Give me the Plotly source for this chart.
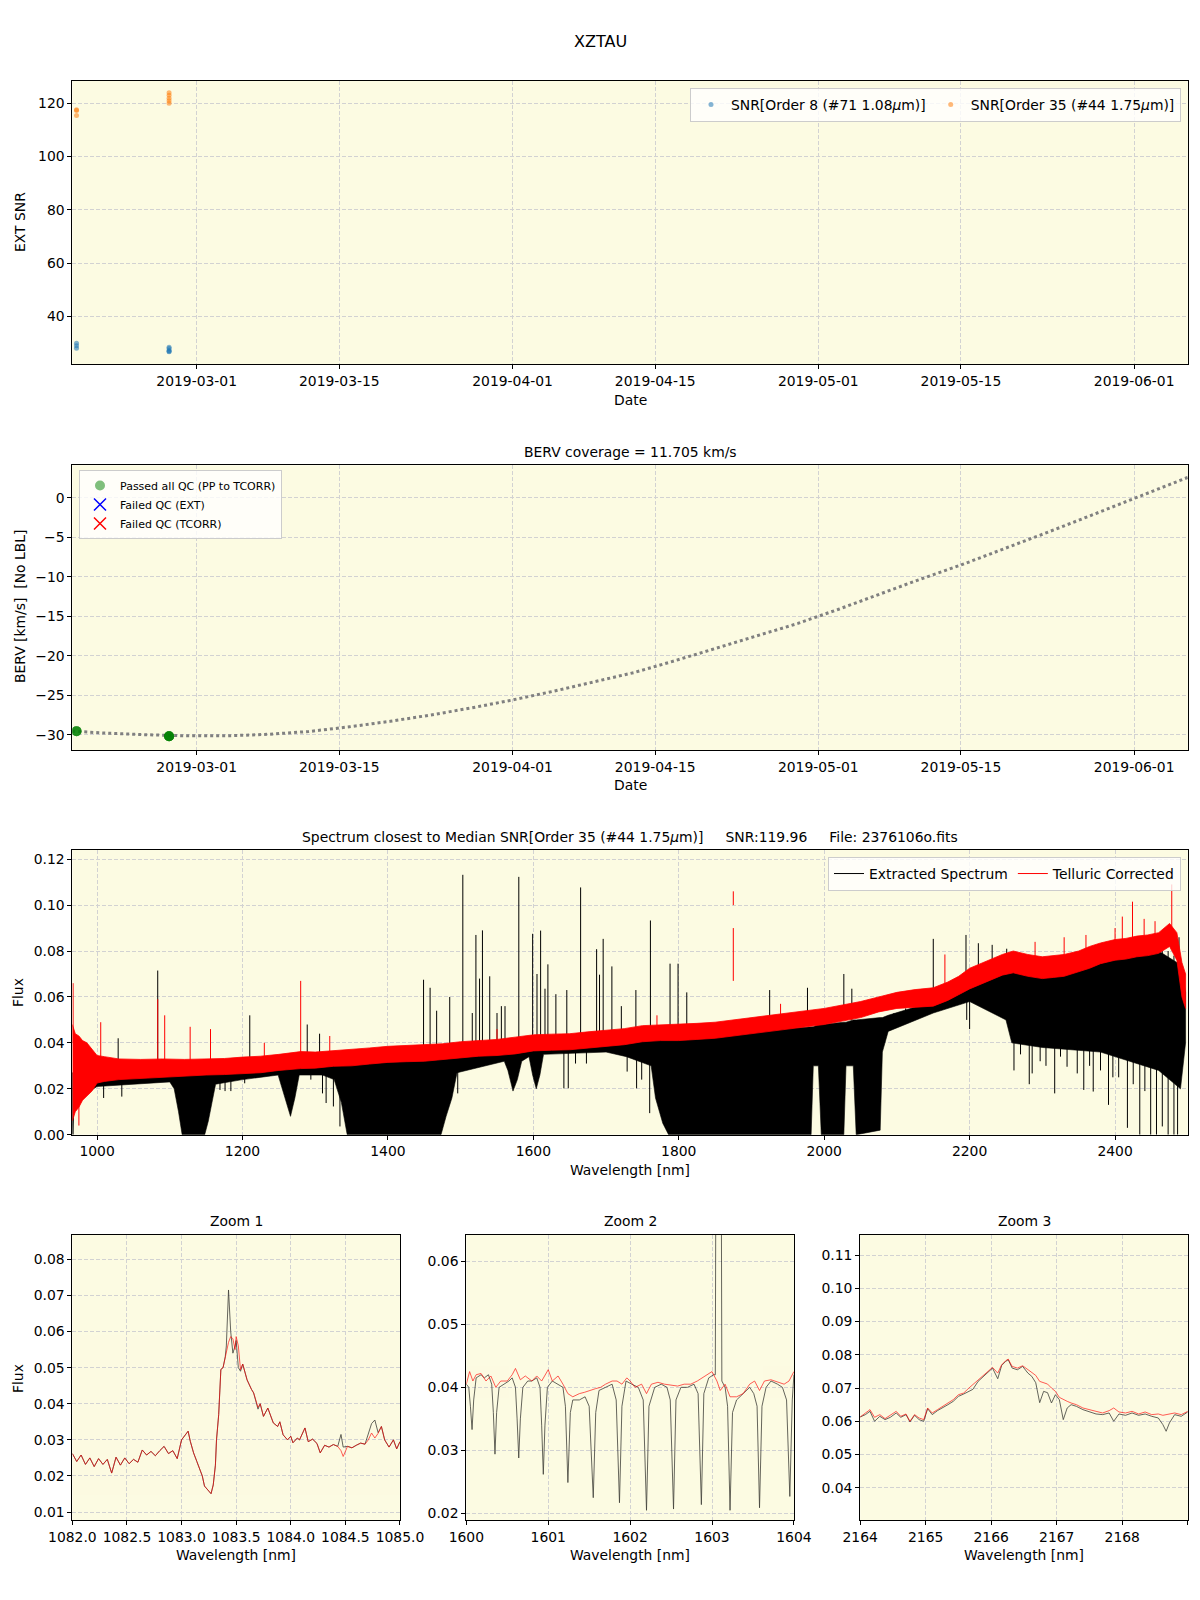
import plotly.graph_objects as go

# ---------------------------------------------------------------- observations
obs_dates = ["2019-02-17 05:00"] * 3 + ["2019-02-26 07:00"] * 5
snr_order8 = [29.9, 29.0, 28.0, 28.4, 27.9, 27.2, 26.9, 26.7]
snr_order35 = [117.5, 117.2, 115.3, 123.9, 122.9, 121.8, 120.9, 119.9]
berv_obs = [-29.55, -29.55, -29.55, -30.2, -30.2, -30.2, -30.2, -30.2]

# BERV over the season (dotted curve)
berv_curve_dates = [
    "2019-02-16 19:00", "2019-02-20", "2019-02-24", "2019-02-28", "2019-03-04",
    "2019-03-08", "2019-03-12", "2019-03-16", "2019-03-20", "2019-03-24",
    "2019-03-28", "2019-04-01", "2019-04-05", "2019-04-09", "2019-04-13",
    "2019-04-17", "2019-04-21", "2019-04-25", "2019-04-29", "2019-05-03",
    "2019-05-07", "2019-05-11", "2019-05-15", "2019-05-19", "2019-05-23",
    "2019-05-27", "2019-05-31", "2019-06-04", "2019-06-06 06:00",
]
berv_curve = [
    -29.55, -29.8, -30.0, -30.15, -30.15,
    -29.95, -29.6, -29.0, -28.3, -27.5,
    -26.6, -25.6, -24.5, -23.3, -22.1,
    -20.6, -19.0, -17.5, -15.9, -14.1,
    -12.2, -10.3, -8.5, -6.6, -4.6,
    -2.6, -0.6, 1.5, 2.6,
]
date_ticks = ["2019-03-01", "2019-03-15", "2019-04-01", "2019-04-15",
              "2019-05-01", "2019-05-15", "2019-06-01"]

# ---------------------------------------------------------------- full spectrum
# telluric corrected: noisy red ribbon (upper / lower envelope)
tc_env_wl = [966, 970, 975, 980, 986, 993, 1000, 1010, 1030, 1060, 1090, 1120,
             1150, 1175, 1200, 1225, 1250, 1280, 1300, 1325, 1350, 1375, 1400, 1425,
             1450, 1475, 1500, 1525, 1550, 1575, 1600, 1625, 1650, 1675, 1700, 1725,
             1750, 1775, 1800, 1825, 1850, 1875, 1900, 1925, 1950, 1975, 2000, 2025,
             2050, 2075, 2100, 2125, 2150, 2170, 2185, 2200, 2215, 2230, 2245, 2260,
             2280, 2300, 2315, 2330, 2350, 2365, 2380, 2400, 2415, 2430, 2445, 2460,
             2475, 2485, 2492, 2497]
tc_env_hi = [0.048, 0.044, 0.043, 0.041, 0.040, 0.037, 0.0345, 0.034, 0.033, 0.0328,
             0.033, 0.0328, 0.033, 0.0332, 0.0338, 0.0342, 0.035, 0.0362, 0.036, 0.0365,
             0.0372, 0.0378, 0.0385, 0.0388, 0.039, 0.0396, 0.0405, 0.041, 0.0415,
             0.0425, 0.0435, 0.0438, 0.044, 0.0448, 0.0455, 0.0462, 0.0475, 0.0478,
             0.048, 0.0485, 0.049, 0.050, 0.051, 0.052, 0.053, 0.054, 0.055, 0.0565,
             0.058, 0.060, 0.062, 0.0632, 0.064, 0.0665, 0.069, 0.0725, 0.0745, 0.0765,
             0.0785, 0.080, 0.0785, 0.0775, 0.078, 0.0785, 0.080, 0.082, 0.0835, 0.085,
             0.0855, 0.0865, 0.087, 0.088, 0.092, 0.088, 0.075, 0.070]
tc_env_lo = [0.006, 0.010, 0.012, 0.015, 0.017, 0.019, 0.0225, 0.0232, 0.024, 0.0242,
             0.025, 0.0255, 0.026, 0.0262, 0.0265, 0.027, 0.028, 0.0288, 0.029, 0.0298,
             0.030, 0.0308, 0.0315, 0.0318, 0.032, 0.0328, 0.0335, 0.0342, 0.0345,
             0.0352, 0.0365, 0.0368, 0.037, 0.0378, 0.0385, 0.0392, 0.0405, 0.041,
             0.041, 0.0415, 0.042, 0.043, 0.044, 0.045, 0.046, 0.047, 0.048, 0.0495,
             0.051, 0.0535, 0.055, 0.0555, 0.056, 0.0585, 0.061, 0.0635, 0.0655, 0.0675,
             0.0695, 0.0705, 0.069, 0.068, 0.0685, 0.069, 0.071, 0.0725, 0.0745, 0.076,
             0.0765, 0.0775, 0.078, 0.079, 0.082, 0.076, 0.060, 0.055]
# red spikes (wavelength, low end, high end)
tc_spk_wl = [967, 975, 1005, 1083.4, 1093, 1128, 1156, 1230, 1280, 1320, 1550, 1770,
             1875, 1875, 1940, 2166, 2290, 2330, 2360, 2400, 2410, 2424, 2440, 2455,
             2478]
tc_spk_lo = [0.040, 0.004, 0.030, 0.030, 0.030, 0.030, 0.030, 0.032, 0.034, 0.034,
             0.040, 0.045, 0.067, 0.100, 0.050, 0.064, 0.076, 0.076, 0.078, 0.082, 0.082,
             0.083, 0.084, 0.085, 0.088]
tc_spk_hi = [0.066, 0.015, 0.049, 0.059, 0.052, 0.047, 0.046, 0.040, 0.067, 0.043,
             0.046, 0.052, 0.090, 0.106, 0.057, 0.0785, 0.084, 0.086, 0.087, 0.090,
             0.095, 0.1015, 0.094, 0.093, 0.109]

# extracted spectrum: black envelope (absorption bands reach zero)
ext_env_wl = [966, 968, 972, 985, 1000, 1050, 1100, 1106, 1112, 1117, 1148, 1153,
              1158, 1163, 1200, 1249, 1256, 1266, 1272, 1278, 1310, 1326, 1336,
              1344, 1473, 1480, 1488, 1495, 1560, 1565, 1572, 1578, 1584, 1594,
              1599, 1604, 1609, 1614, 1700, 1728, 1762, 1768, 1778, 1786, 1982,
              1985, 1992, 1996, 2027, 2030, 2040, 2044, 2077, 2080, 2088, 2150,
              2200, 2250, 2258, 2300, 2380, 2420, 2460, 2490, 2497]
ext_env_top = [0.027, 0.027, 0.027, 0.027, 0.027, 0.027, 0.028, 0.028, 0.028, 0.028,
               0.028, 0.028, 0.028, 0.028, 0.029, 0.030, 0.030, 0.030, 0.030, 0.031,
               0.031, 0.031, 0.031, 0.032, 0.035, 0.035, 0.035, 0.035, 0.037, 0.037,
               0.037, 0.037, 0.037, 0.038, 0.038, 0.038, 0.038, 0.038, 0.040, 0.041,
               0.042, 0.042, 0.042, 0.043, 0.047, 0.047, 0.048, 0.048, 0.049, 0.049,
               0.050, 0.050, 0.051, 0.051, 0.052, 0.058, 0.065, 0.072, 0.072, 0.070,
               0.075, 0.078, 0.080, 0.074, 0.062]
ext_env_bot = [0.000, 0.010, 0.014, 0.018, 0.021, 0.022, 0.023, 0.020, 0.010, 0.000,
               0.000, 0.006, 0.014, 0.022, 0.024, 0.026, 0.018, 0.008, 0.016, 0.026,
               0.026, 0.024, 0.014, 0.000, 0.000, 0.008, 0.016, 0.027, 0.032, 0.028,
               0.019, 0.024, 0.032, 0.034, 0.026, 0.020, 0.026, 0.035, 0.036, 0.034,
               0.030, 0.016, 0.005, 0.000, 0.000, 0.030, 0.030, 0.000, 0.000, 0.030,
               0.030, 0.000, 0.002, 0.036, 0.045, 0.053, 0.058, 0.050, 0.040, 0.038,
               0.036, 0.032, 0.028, 0.020, 0.040]
# black emission spikes
ext_spk_wl = [1029, 1083.4, 1210, 1289, 1306, 1449, 1458, 1467, 1485, 1503, 1516,
              1521, 1526, 1530, 1540, 1550, 1556, 1561, 1580, 1599, 1605, 1610,
              1616, 1620, 1631, 1646, 1665, 1687, 1691, 1696, 1708, 1721, 1741,
              1761, 1788, 1799, 1811, 1925, 1977, 2027, 2038, 2150, 2195, 2212,
              2231, 2251, 2488]
ext_spk_base = [0.028, 0.028, 0.029, 0.031, 0.031, 0.034, 0.034, 0.034, 0.035, 0.036,
                0.036, 0.036, 0.036, 0.036, 0.037, 0.037, 0.037, 0.037, 0.038, 0.039,
                0.039, 0.039, 0.039, 0.039, 0.039, 0.040, 0.040, 0.041, 0.041, 0.041,
                0.041, 0.042, 0.043, 0.043, 0.044, 0.044, 0.044, 0.047, 0.049, 0.050,
                0.050, 0.059, 0.066, 0.068, 0.070, 0.073, 0.074]
ext_spk_peak = [0.042, 0.0715, 0.052, 0.048, 0.044, 0.0675, 0.064, 0.054, 0.060,
                0.1132, 0.053, 0.087, 0.068, 0.089, 0.069, 0.053, 0.056, 0.056,
                0.1123, 0.0875, 0.070, 0.0889, 0.0636, 0.0742, 0.0612, 0.063, 0.1077,
                0.0808, 0.0697, 0.0853, 0.0733, 0.056, 0.063, 0.0933, 0.0745, 0.0745,
                0.062, 0.063, 0.064, 0.070, 0.0636, 0.0853, 0.087, 0.0834, 0.0827,
                0.081, 0.086]
# black deep absorption lines
ext_dip_wl = [967, 1009, 1034, 1169, 1176, 1184, 1203, 1294, 1310, 1315, 1325, 1334,
              1496, 1514, 1642, 1648, 1658, 1673, 1729, 1742, 1749, 1760, 2083, 2096,
              2112, 2167, 2196, 2200, 2261, 2270, 2282, 2286, 2297, 2305, 2317, 2325,
              2334, 2348, 2357, 2365, 2370, 2380, 2391, 2397, 2405, 2417, 2425, 2434,
              2441, 2449, 2457, 2465, 2473, 2481, 2486]
ext_dip_top = [0.027, 0.028, 0.028, 0.029, 0.029, 0.029, 0.029, 0.031, 0.031, 0.031,
               0.031, 0.031, 0.035, 0.036, 0.039, 0.039, 0.039, 0.040, 0.041, 0.042,
               0.042, 0.042, 0.051, 0.053, 0.055, 0.061, 0.065, 0.065, 0.072, 0.072,
               0.071, 0.071, 0.070, 0.070, 0.070, 0.070, 0.070, 0.071, 0.071, 0.072,
               0.072, 0.073, 0.074, 0.074, 0.075, 0.076, 0.077, 0.078, 0.078, 0.079,
               0.079, 0.080, 0.080, 0.078, 0.076]
ext_dip_min = [0.0, 0.016, 0.0166, 0.0195, 0.019, 0.019, 0.0224, 0.024, 0.018, 0.0138,
               0.0123, 0.0036, 0.018, 0.029, 0.0202, 0.0202, 0.031, 0.031, 0.0275,
               0.0202, 0.024, 0.0094, 0.040, 0.047, 0.053, 0.057, 0.050, 0.046, 0.028,
               0.035, 0.022, 0.0267, 0.032, 0.030, 0.018, 0.034, 0.0296, 0.0267, 0.0195,
               0.030, 0.0188, 0.028, 0.013, 0.025, 0.025, 0.003, 0.022, 0.0, 0.019, 0.0,
               0.0, 0.0036, 0.0, 0.0, 0.0]

# ---------------------------------------------------------------- zoom 1 (He I)
z1_wl = [1082.00, 1082.04, 1082.08, 1082.12, 1082.16, 1082.20, 1082.24, 1082.28,
         1082.32, 1082.36, 1082.40, 1082.44, 1082.48, 1082.52, 1082.56, 1082.60,
         1082.64, 1082.68, 1082.72, 1082.76, 1082.80, 1082.84, 1082.88, 1082.92,
         1082.96, 1083.00, 1083.04, 1083.06, 1083.08, 1083.11, 1083.14, 1083.16,
         1083.19, 1083.21, 1083.23, 1083.25, 1083.27, 1083.29, 1083.31, 1083.32,
         1083.34, 1083.36, 1083.38, 1083.40, 1083.41, 1083.43, 1083.45, 1083.47,
         1083.49, 1083.50, 1083.52, 1083.54, 1083.56, 1083.60, 1083.64, 1083.66,
         1083.70, 1083.72, 1083.75, 1083.79, 1083.84, 1083.88, 1083.90, 1083.93,
         1083.97, 1084.00, 1084.02, 1084.06, 1084.08, 1084.13, 1084.16, 1084.20,
         1084.24, 1084.27, 1084.31, 1084.35, 1084.39, 1084.43, 1084.46, 1084.48,
         1084.52, 1084.56, 1084.60, 1084.64, 1084.68, 1084.71, 1084.74, 1084.77,
         1084.80, 1084.83, 1084.86, 1084.90, 1084.94, 1084.97, 1085.00]
z1_tc = [0.0262, 0.0240, 0.0258, 0.0232, 0.0250, 0.0226, 0.0248, 0.0232, 0.0246,
         0.0208, 0.0252, 0.0230, 0.0250, 0.0234, 0.0246, 0.0238, 0.0272, 0.0258,
         0.0268, 0.0256, 0.0270, 0.0282, 0.0262, 0.0270, 0.0248, 0.0300, 0.0316,
         0.0324, 0.0296, 0.0264, 0.0240, 0.0222, 0.0200, 0.0172, 0.0166, 0.0158,
         0.0151, 0.0175, 0.0230, 0.0300, 0.0370, 0.0495, 0.0500, 0.0530, 0.0545,
         0.0570, 0.0586, 0.0580, 0.0550, 0.0586, 0.0560, 0.0494, 0.0510, 0.0466,
         0.0440, 0.0430, 0.0390, 0.0400, 0.0365, 0.0388, 0.0347, 0.0337, 0.0350,
         0.0314, 0.0300, 0.0310, 0.0292, 0.0305, 0.0300, 0.0333, 0.0295, 0.0302,
         0.0290, 0.0264, 0.0285, 0.0280, 0.0287, 0.0282, 0.0270, 0.0254, 0.0282,
         0.0278, 0.0285, 0.0291, 0.0288, 0.0300, 0.0319, 0.0305, 0.0318, 0.0337,
         0.0300, 0.0280, 0.0300, 0.0275, 0.0295]
z1_ext = [0.0262, 0.0240, 0.0258, 0.0232, 0.0250, 0.0226, 0.0248, 0.0232, 0.0246,
          0.0208, 0.0252, 0.0230, 0.0250, 0.0234, 0.0246, 0.0238, 0.0272, 0.0258,
          0.0268, 0.0256, 0.0270, 0.0282, 0.0262, 0.0270, 0.0248, 0.0300, 0.0316,
          0.0324, 0.0296, 0.0264, 0.0240, 0.0222, 0.0200, 0.0172, 0.0166, 0.0158,
          0.0151, 0.0175, 0.0230, 0.0300, 0.0370, 0.0495, 0.0500, 0.0530, 0.0560,
          0.0715, 0.0600, 0.0540, 0.0560, 0.0575, 0.0500, 0.0490, 0.0510, 0.0466,
          0.0440, 0.0430, 0.0385, 0.0400, 0.0365, 0.0388, 0.0347, 0.0337, 0.0350,
          0.0314, 0.0300, 0.0310, 0.0292, 0.0305, 0.0300, 0.0333, 0.0295, 0.0302,
          0.0290, 0.0264, 0.0285, 0.0280, 0.0287, 0.0282, 0.0315, 0.0280, 0.0282,
          0.0278, 0.0285, 0.0291, 0.0288, 0.0320, 0.0345, 0.0355, 0.0320, 0.0337,
          0.0300, 0.0280, 0.0300, 0.0275, 0.0295]

# ---------------------------------------------------------------- zoom 2
z2_ext_wl = [1600.00, 1600.03, 1600.05, 1600.07, 1600.09, 1600.12, 1600.18, 1600.22,
             1600.27, 1600.31, 1600.33, 1600.35, 1600.37, 1600.40, 1600.46, 1600.52,
             1600.56, 1600.60, 1600.62, 1600.64, 1600.66, 1600.69, 1600.75, 1600.80,
             1600.86, 1600.90, 1600.92, 1600.94, 1600.96, 1600.99, 1601.05, 1601.12,
             1601.18, 1601.21, 1601.24, 1601.27, 1601.30, 1601.38, 1601.45, 1601.50,
             1601.55, 1601.58, 1601.62, 1601.70, 1601.78, 1601.83, 1601.87, 1601.90,
             1601.95, 1602.02, 1602.10, 1602.16, 1602.20, 1602.23, 1602.30, 1602.38,
             1602.45, 1602.49, 1602.53, 1602.56, 1602.62, 1602.70, 1602.78, 1602.83,
             1602.87, 1602.90, 1602.96, 1603.02, 1603.04, 1603.05, 1603.11, 1603.12,
             1603.16, 1603.19, 1603.22, 1603.25, 1603.30, 1603.38, 1603.46, 1603.51,
             1603.55, 1603.58, 1603.61, 1603.66, 1603.72, 1603.80, 1603.86, 1603.91,
             1603.95, 1603.98, 1604.00]
z2_ext = [0.0405, 0.0400, 0.0370, 0.0333, 0.0380, 0.0415, 0.0420, 0.0415, 0.0420,
          0.0405, 0.0360, 0.0294, 0.0360, 0.0400, 0.0405, 0.0410, 0.0415, 0.0400,
          0.0350, 0.0288, 0.0350, 0.0400, 0.0410, 0.0410, 0.0415, 0.0400, 0.0340,
          0.0262, 0.0340, 0.0400, 0.0410, 0.0405, 0.0400, 0.0370, 0.0249, 0.0360,
          0.0380, 0.0380, 0.0385, 0.0370, 0.0225, 0.0360, 0.0395, 0.0400, 0.0405,
          0.0380, 0.0217, 0.0370, 0.0410, 0.0405, 0.0400, 0.0380, 0.0205, 0.0370,
          0.0400, 0.0405, 0.0400, 0.0380, 0.0207, 0.0380, 0.0400, 0.0400, 0.0405,
          0.0390, 0.0214, 0.0390, 0.0415, 0.0420, 0.0420, 0.0880, 0.0880, 0.0410,
          0.0400, 0.0370, 0.0205, 0.0360, 0.0380, 0.0390, 0.0400, 0.0390, 0.0370,
          0.0209, 0.0370, 0.0400, 0.0410, 0.0405, 0.0400, 0.0380, 0.0227, 0.0380,
          0.0420]
z2_tc_wl = [1600.00, 1600.04, 1600.08, 1600.12, 1600.18, 1600.24, 1600.30, 1600.36,
            1600.42, 1600.50, 1600.56, 1600.60, 1600.66, 1600.72, 1600.80, 1600.86,
            1600.92, 1601.00, 1601.05, 1601.12, 1601.18, 1601.24, 1601.30, 1601.38,
            1601.44, 1601.50, 1601.58, 1601.64, 1601.70, 1601.78, 1601.84, 1601.90,
            1601.96, 1602.00, 1602.06, 1602.14, 1602.20, 1602.26, 1602.34, 1602.42,
            1602.50, 1602.58, 1602.66, 1602.74, 1602.82, 1602.88, 1602.94, 1603.00,
            1603.06, 1603.10, 1603.16, 1603.22, 1603.30, 1603.38, 1603.46, 1603.52,
            1603.58, 1603.64, 1603.72, 1603.80, 1603.88, 1603.94, 1604.00]
z2_tc = [0.0405, 0.0425, 0.0410, 0.0420, 0.0422, 0.0410, 0.0418, 0.0400, 0.0410,
         0.0410, 0.0420, 0.0430, 0.0412, 0.0418, 0.0410, 0.0418, 0.0410, 0.0428,
         0.0410, 0.0418, 0.0405, 0.0390, 0.0385, 0.0390, 0.0392, 0.0395, 0.0398,
         0.0400, 0.0405, 0.0410, 0.0410, 0.0405, 0.0415, 0.0410, 0.0400, 0.0405,
         0.0390, 0.0405, 0.0408, 0.0405, 0.0403, 0.0402, 0.0405, 0.0405, 0.0410,
         0.0415, 0.0420, 0.0425, 0.0410, 0.0395, 0.0405, 0.0385, 0.0385, 0.0390,
         0.0405, 0.0410, 0.0395, 0.0410, 0.0412, 0.0408, 0.0405, 0.0410, 0.0425]

# ---------------------------------------------------------------- zoom 3 (Br gamma)
z3_wl = [2164.00, 2164.08, 2164.15, 2164.22, 2164.30, 2164.38, 2164.46, 2164.55,
         2164.62, 2164.70, 2164.76, 2164.83, 2164.90, 2164.97, 2165.03, 2165.10,
         2165.18, 2165.26, 2165.34, 2165.42, 2165.50, 2165.58, 2165.66, 2165.72,
         2165.80, 2165.88, 2165.95, 2166.02, 2166.10, 2166.16, 2166.22, 2166.26,
         2166.32, 2166.40, 2166.48, 2166.56, 2166.62, 2166.68, 2166.74, 2166.80,
         2166.86, 2166.92, 2166.98, 2167.04, 2167.10, 2167.16, 2167.22, 2167.30,
         2167.40, 2167.50, 2167.60, 2167.70, 2167.80, 2167.87, 2167.95, 2168.05,
         2168.15, 2168.25, 2168.35, 2168.45, 2168.55, 2168.62, 2168.67, 2168.72,
         2168.80, 2168.90, 2169.00]
z3_tc = [0.0613, 0.0625, 0.0635, 0.0612, 0.0620, 0.0608, 0.0618, 0.0630, 0.0615,
         0.0622, 0.0600, 0.0620, 0.0610, 0.0605, 0.0640, 0.0625, 0.0635, 0.0645,
         0.0655, 0.0665, 0.0680, 0.0685, 0.0700, 0.0710, 0.0725, 0.0738, 0.0748,
         0.0762, 0.0745, 0.0770, 0.0782, 0.0787, 0.0765, 0.0760, 0.0767, 0.0755,
         0.0745, 0.0738, 0.0720, 0.0715, 0.0712, 0.0700, 0.0690, 0.0672, 0.0665,
         0.0660, 0.0655, 0.0650, 0.0640, 0.0636, 0.0630, 0.0625, 0.0632, 0.0640,
         0.0628, 0.0625, 0.0630, 0.0622, 0.0628, 0.0620, 0.0622, 0.0618, 0.0620,
         0.0622, 0.0625, 0.0620, 0.0630]
z3_ext = [0.0613, 0.0620, 0.0630, 0.0600, 0.0615, 0.0605, 0.0612, 0.0625, 0.0612,
          0.0620, 0.0598, 0.0618, 0.0605, 0.0600, 0.0638, 0.0620, 0.0632, 0.0640,
          0.0650, 0.0660, 0.0675, 0.0682, 0.0690, 0.0696, 0.0720, 0.0735, 0.0745,
          0.0760, 0.0728, 0.0768, 0.0780, 0.0785, 0.0760, 0.0755, 0.0765, 0.0745,
          0.0735, 0.0716, 0.0656, 0.0690, 0.0686, 0.0655, 0.0680, 0.0665, 0.0605,
          0.0640, 0.0650, 0.0645, 0.0635, 0.0628, 0.0622, 0.0620, 0.0625, 0.0600,
          0.0622, 0.0618, 0.0625, 0.0618, 0.0622, 0.0615, 0.0610, 0.0590, 0.0570,
          0.0595, 0.0620, 0.0615, 0.0628]

# ---------------------------------------------------------------- styling
FONT = "DejaVu Sans"
BG = "#fcfbe2"
TICK = 13.9


def ax(**kw):
    d = dict(showline=True, linecolor="black", linewidth=1, mirror=True,
             ticks="outside", ticklen=4, tickcolor="black", tickwidth=1,
             showgrid=True, gridcolor="#d2d2d2", griddash="4px,2px", gridwidth=1,
             zeroline=False, automargin=False,
             tickfont=dict(family=FONT, size=TICK, color="black"))
    d.update(kw)
    return d


def segs(wl, lo, hi):
    xs, ys = [], []
    for w, a, b in zip(wl, lo, hi):
        xs += [w, w, None]
        ys += [a, b, None]
    return xs, ys


fig = go.Figure()

# panel 1: SNR
fig.add_trace(go.Scatter(x=obs_dates, y=snr_order8, mode="markers", xaxis="x", yaxis="y",
                         marker=dict(color="#1f77b4", size=5, opacity=0.55),
                         name="SNR[Order 8 (#71 1.08<i>μ</i>m)]", legend="legend"))
fig.add_trace(go.Scatter(x=obs_dates, y=snr_order35, mode="markers", xaxis="x", yaxis="y",
                         marker=dict(color="#ff7f0e", size=5, opacity=0.55),
                         name="SNR[Order 35 (#44 1.75<i>μ</i>m)]", legend="legend"))

# panel 2: BERV
fig.add_trace(go.Scatter(x=berv_curve_dates, y=berv_curve, mode="lines", xaxis="x2", yaxis="y2",
                         line=dict(color="gray", width=3, dash="dot"), showlegend=False))
fig.add_trace(go.Scatter(x=obs_dates, y=berv_obs, mode="markers", xaxis="x2", yaxis="y2",
                         marker=dict(color="green", size=10, opacity=0.5),
                         name="Passed all QC (PP to TCORR)", legend="legend2"))
fig.add_trace(go.Scatter(x=[None], y=[None], mode="markers", xaxis="x2", yaxis="y2",
                         marker=dict(symbol="x-thin", size=12, line=dict(color="blue", width=1.5)),
                         name="Failed QC (EXT)", legend="legend2"))
fig.add_trace(go.Scatter(x=[None], y=[None], mode="markers", xaxis="x2", yaxis="y2",
                         marker=dict(symbol="x-thin", size=12, line=dict(color="red", width=1.5)),
                         name="Failed QC (TCORR)", legend="legend2"))

# panel 3: full spectrum
fig.add_trace(go.Scatter(x=ext_env_wl + ext_env_wl[::-1], y=ext_env_top + ext_env_bot[::-1],
                         mode="lines", fill="toself", fillcolor="black",
                         line=dict(color="black", width=0.6), xaxis="x3", yaxis="y3",
                         showlegend=False, hoverinfo="skip"))
sx, sy = segs(ext_dip_wl, ext_dip_min, ext_dip_top)
fig.add_trace(go.Scatter(x=sx, y=sy, mode="lines", line=dict(color="black", width=1),
                         xaxis="x3", yaxis="y3", showlegend=False))
sx, sy = segs(ext_spk_wl, ext_spk_base, ext_spk_peak)
fig.add_trace(go.Scatter(x=sx, y=sy, mode="lines", line=dict(color="black", width=1),
                         xaxis="x3", yaxis="y3", showlegend=False))
fig.add_trace(go.Scatter(x=tc_env_wl + tc_env_wl[::-1], y=tc_env_hi + tc_env_lo[::-1],
                         mode="lines", fill="toself", fillcolor="red",
                         line=dict(color="red", width=0.8), xaxis="x3", yaxis="y3",
                         showlegend=False, hoverinfo="skip"))
sx, sy = segs(tc_spk_wl, tc_spk_lo, tc_spk_hi)
fig.add_trace(go.Scatter(x=sx, y=sy, mode="lines", line=dict(color="red", width=1),
                         xaxis="x3", yaxis="y3", showlegend=False))
fig.add_trace(go.Scatter(x=[None], y=[None], mode="lines", line=dict(color="black", width=1),
                         xaxis="x3", yaxis="y3", name="Extracted Spectrum", legend="legend3"))
fig.add_trace(go.Scatter(x=[None], y=[None], mode="lines", line=dict(color="red", width=1),
                         xaxis="x3", yaxis="y3", name="Telluric Corrected", legend="legend3"))

# zoom panels
for n, wl_e, fe, wl_t, ft in [(4, z1_wl, z1_ext, z1_wl, z1_tc),
                              (5, z2_ext_wl, z2_ext, z2_tc_wl, z2_tc),
                              (6, z3_wl, z3_ext, z3_wl, z3_tc)]:
    fig.add_trace(go.Scatter(x=wl_e, y=fe, mode="lines", line=dict(color="black", width=0.8),
                             opacity=0.75, xaxis=f"x{n}", yaxis=f"y{n}", showlegend=False))
    fig.add_trace(go.Scatter(x=wl_t, y=ft, mode="lines", line=dict(color="red", width=0.8),
                             opacity=0.8, xaxis=f"x{n}", yaxis=f"y{n}", showlegend=False))

XD = [0.0603, 0.9898]
date_range = ["2019-02-16 19:12", "2019-06-06 06:14"]

fig.update_layout(
    width=1200, height=1600, margin=dict(l=0, r=0, t=0, b=0, autoexpand=False),
    paper_bgcolor="white", plot_bgcolor=BG,
    font=dict(family=FONT, size=TICK, color="black"),
    xaxis=ax(domain=XD, anchor="y", type="date", range=date_range,
             tickvals=date_ticks, tickformat="%Y-%m-%d"),
    yaxis=ax(domain=[0.7723, 0.9496], anchor="x", range=[22, 128.4],
             tickvals=[40, 60, 80, 100, 120]),
    xaxis2=ax(domain=XD, anchor="y2", type="date", range=date_range,
              tickvals=date_ticks, tickformat="%Y-%m-%d"),
    yaxis2=ax(domain=[0.53125, 0.7092], anchor="x2", range=[-31.94, 4.14],
              tickvals=[-30, -25, -20, -15, -10, -5, 0], tickformat="d"),
    xaxis3=ax(domain=XD, anchor="y3", range=[966, 2500],
              tickvals=[1000, 1200, 1400, 1600, 1800, 2000, 2200, 2400]),
    yaxis3=ax(domain=[0.2908, 0.46875], anchor="x3", range=[0, 0.124],
              tickvals=[0, 0.02, 0.04, 0.06, 0.08, 0.10, 0.12], tickformat=".2f"),
    xaxis4=ax(domain=[0.0603, 0.3333], anchor="y4", range=[1082, 1085],
              tickvals=[1082, 1082.5, 1083, 1083.5, 1084, 1084.5, 1085], tickformat=".1f"),
    yaxis4=ax(domain=[0.04975, 0.2283], anchor="x4", range=[0.0077, 0.0868],
              tickvals=[0.01, 0.02, 0.03, 0.04, 0.05, 0.06, 0.07, 0.08], tickformat=".2f"),
    xaxis5=ax(domain=[0.3886, 0.6616], anchor="y5", range=[1600, 1604],
              tickvals=[1600, 1601, 1602, 1603, 1604], tickformat="d"),
    yaxis5=ax(domain=[0.04975, 0.2283], anchor="x5", range=[0.0189, 0.0642],
              tickvals=[0.02, 0.03, 0.04, 0.05, 0.06], tickformat=".2f"),
    xaxis6=ax(domain=[0.7168, 0.9898], anchor="y6", range=[2164, 2169],
              tickvals=[2164, 2165, 2166, 2167, 2168, 2169], tickformat="d"),
    yaxis6=ax(domain=[0.04975, 0.2283], anchor="x6", range=[0.0302, 0.1161],
              tickvals=[0.04, 0.05, 0.06, 0.07, 0.08, 0.09, 0.10, 0.11], tickformat=".2f"),
    legend=dict(x=1181 / 1200, xanchor="right", y=1 - 88 / 1600, yanchor="top",
                orientation="h", bgcolor="rgba(255,255,255,0.8)", bordercolor="#cccccc",
                borderwidth=1, font=dict(family=FONT, size=TICK)),
    legend2=dict(x=79 / 1200, xanchor="left", y=1 - 470 / 1600, yanchor="top",
                 bgcolor="rgba(255,255,255,0.8)", bordercolor="#cccccc", borderwidth=1,
                 tracegroupgap=0, font=dict(family=FONT, size=11)),
    legend3=dict(x=1181 / 1200, xanchor="right", y=1 - 857 / 1600, yanchor="top",
                 orientation="h", bgcolor="rgba(255,255,255,0.8)", bordercolor="#cccccc",
                 borderwidth=1, font=dict(family=FONT, size=TICK)),
)


def label(text, px, py, size=TICK, angle=0):
    fig.add_annotation(text=text, x=px / 1200, y=1 - py / 1600, xref="paper", yref="paper",
                       showarrow=False, xanchor="center", yanchor="middle", textangle=angle,
                       font=dict(family=FONT, size=size, color="black"))


nb = "\u00a0" * 5
label("XZTAU", 600, 41, size=16)
label("EXT SNR", 20, 222, angle=-90)
label("Date", 630, 400)
label("BERV coverage = 11.705 km/s", 630, 452)
label("BERV [km/s]\u00a0\u00a0[No LBL]", 20, 607, angle=-90)
label("Date", 630, 785)
label(f"Spectrum closest to Median SNR[Order 35 (#44 1.75<i>μ</i>m)]{nb}SNR:119.96{nb}File: 2376106o.fits",
      630, 837)
label("Flux", 18, 993, angle=-90)
label("Wavelength [nm]", 630, 1170)
for cx, t in [(236, "Zoom 1"), (630, "Zoom 2"), (1024, "Zoom 3")]:
    label(t, cx, 1221)
    label("Wavelength [nm]", cx, 1555)
label("Flux", 18, 1379, angle=-90)

# the page body has a default 8px margin; remove it so the figure sits at (0, 0)
fig.write_html("out.html", config={"displayModeBar": False},
               post_script="document.body.style.margin = '0';")
